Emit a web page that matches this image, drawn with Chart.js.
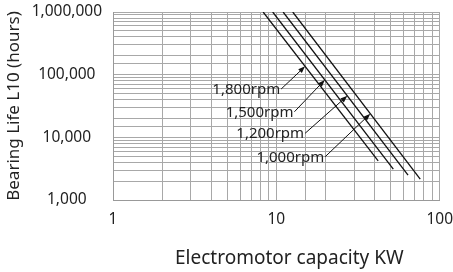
<!DOCTYPE html>
<html>
<head>
<meta charset="utf-8">
<title>Bearing life</title>
<script src="https://cdn.jsdelivr.net/npm/chart.js@4.4.1/dist/chart.umd.min.js"></script>
<style>
  body { margin: 0; background: #fff; }
</style>
</head>
<body>
<canvas id="myChart" width="453" height="272"></canvas>
<script>
// capacity (KW) / life (hours) end points of each rpm line
var capacity1800 = [8.3, 42];
var life1800 = [1000000, 4200];
var capacity1500 = [9.5, 52];
var life1500 = [1000000, 3100];
var capacity1200 = [11, 64];
var life1200 = [1000000, 2500];
var capacity1000 = [12.6, 76];
var life1000 = [1000000, 2150];

var rpmLabels = ['1,800rpm', '1,500rpm', '1,200rpm', '1,000rpm'];
// where each label sits and where its arrow hits the line
var labelAtX = [10.7, 12.9, 15.0, 19.9];
var labelAtY = [59000, 25600, 11600, 4900];
var arrowToX = [15.0, 19.8, 27.2, 37.6];

var xTickValues = [1, 10, 100];
var xTickLabels = ['1', '10', '100'];
var yTickValues = [1000, 10000, 100000, 1000000];
var yTickLabels = ['1,000', '10,000', '100,000', '1,000,000'];
var xTitle = 'Electromotor capacity KW';
var yTitle = 'Bearing Life L10 (hours)';

function toPoints(xs, ys) {
    var pts = [];
    for (var i = 0; i < xs.length; i++) {
        pts.push({x: xs[i], y: ys[i]});
    }
    return pts;
}

function lifeAt(xs, ys, x) {
    // straight line on log-log paper
    var lx0 = Math.log10(xs[0]), lx1 = Math.log10(xs[1]);
    var ly0 = Math.log10(ys[0]), ly1 = Math.log10(ys[1]);
    var t = (Math.log10(x) - lx0) / (lx1 - lx0);
    return Math.pow(10, ly0 + t * (ly1 - ly0));
}

var lines = [
    [capacity1800, life1800],
    [capacity1500, life1500],
    [capacity1200, life1200],
    [capacity1000, life1000]
];

var arrowLabels = {
    id: 'arrowLabels',
    afterDatasetsDraw: function (chart) {
        var ctx = chart.ctx;
        var xs = chart.scales.x, ys = chart.scales.y;
        ctx.save();
        for (var i = 0; i < rpmLabels.length; i++) {
            var x0 = xs.getPixelForValue(labelAtX[i]);
            var y0 = ys.getPixelForValue(labelAtY[i]);
            var x1 = xs.getPixelForValue(arrowToX[i]);
            var y1 = ys.getPixelForValue(lifeAt(lines[i][0], lines[i][1], arrowToX[i]));
            var a = Math.atan2(y1 - y0, x1 - x0);
            ctx.strokeStyle = '#111';
            ctx.fillStyle = '#111';
            ctx.lineWidth = 1;
            ctx.beginPath();
            ctx.moveTo(x0, y0);
            ctx.lineTo(x1 - 5 * Math.cos(a), y1 - 5 * Math.sin(a));
            ctx.stroke();
            ctx.beginPath();
            ctx.moveTo(x1, y1);
            ctx.lineTo(x1 - 7 * Math.cos(a) + 2.6 * Math.sin(a), y1 - 7 * Math.sin(a) - 2.6 * Math.cos(a));
            ctx.lineTo(x1 - 7 * Math.cos(a) - 2.6 * Math.sin(a), y1 - 7 * Math.sin(a) + 2.6 * Math.cos(a));
            ctx.closePath();
            ctx.fill();

            ctx.fillStyle = '#222';
            ctx.font = '15px "Noto Sans"';
            ctx.textAlign = 'right';
            ctx.textBaseline = 'alphabetic';
            ctx.fillText(rpmLabels[i], x0 - 1, y0 + 5);
        }
        // x axis title sits a little right of the plot centre in the original
        var area = chart.chartArea;
        ctx.fillStyle = '#222';
        ctx.font = '19px "Noto Sans"';
        ctx.textAlign = 'center';
        ctx.textBaseline = 'alphabetic';
        ctx.fillText(xTitle, (area.left + area.right) / 2 + 13, area.bottom + 64);
        ctx.restore();
    }
};

Chart.defaults.font.family = '"Noto Sans", sans-serif';
Chart.defaults.color = '#222';

var datasets = [];
for (var i = 0; i < lines.length; i++) {
    datasets.push({
        label: rpmLabels[i],
        data: toPoints(lines[i][0], lines[i][1]),
        showLine: true,
        borderColor: '#111',
        borderWidth: 1.3,
        pointRadius: 0,
        fill: false
    });
}

var graphTarget = document.getElementById('myChart');
var lifeGraph = new Chart(graphTarget, {
    type: 'scatter',
    data: {datasets: datasets},
    plugins: [arrowLabels],
    options: {
        responsive: false,
        animation: false,
        devicePixelRatio: 1,
        layout: {padding: {top: 12, right: 0, left: 0, bottom: 0}},
        plugins: {
            legend: {display: false},
            tooltip: {enabled: false}
        },
        scales: {
            x: {
                type: 'logarithmic',
                min: 1,
                max: 100,
                afterFit: function (scale) { scale.height = 72; },
                border: {color: '#999'},
                // invisible tick marks only push the labels away from the axis
                grid: {color: '#a8a8a8', drawTicks: true, tickLength: 10, tickColor: 'rgba(0,0,0,0)'},
                ticks: {
                    autoSkip: false,
                    maxRotation: 0,
                    padding: 0,
                    font: {size: 15.5},
                    callback: function (v) {
                        var k = xTickValues.indexOf(v);
                        return k >= 0 ? xTickLabels[k] : '';
                    }
                }
            },
            y: {
                type: 'logarithmic',
                min: 1000,
                max: 1000000,
                afterFit: function (scale) { scale.width = 113; },
                border: {color: '#999'},
                grid: {color: '#a8a8a8', drawTicks: true, tickLength: 11, tickColor: 'rgba(0,0,0,0)'},
                ticks: {
                    autoSkip: false,
                    crossAlign: 'center',
                    padding: 0,
                    font: {size: 15.5},
                    callback: function (v) {
                        var k = yTickValues.indexOf(v);
                        return k >= 0 ? yTickLabels[k] : '';
                    }
                },
                title: {
                    display: true,
                    text: yTitle,
                    font: {size: 17},
                    padding: {top: 4, bottom: 0}
                }
            }
        }
    }
});
</script>
</body>
</html>
